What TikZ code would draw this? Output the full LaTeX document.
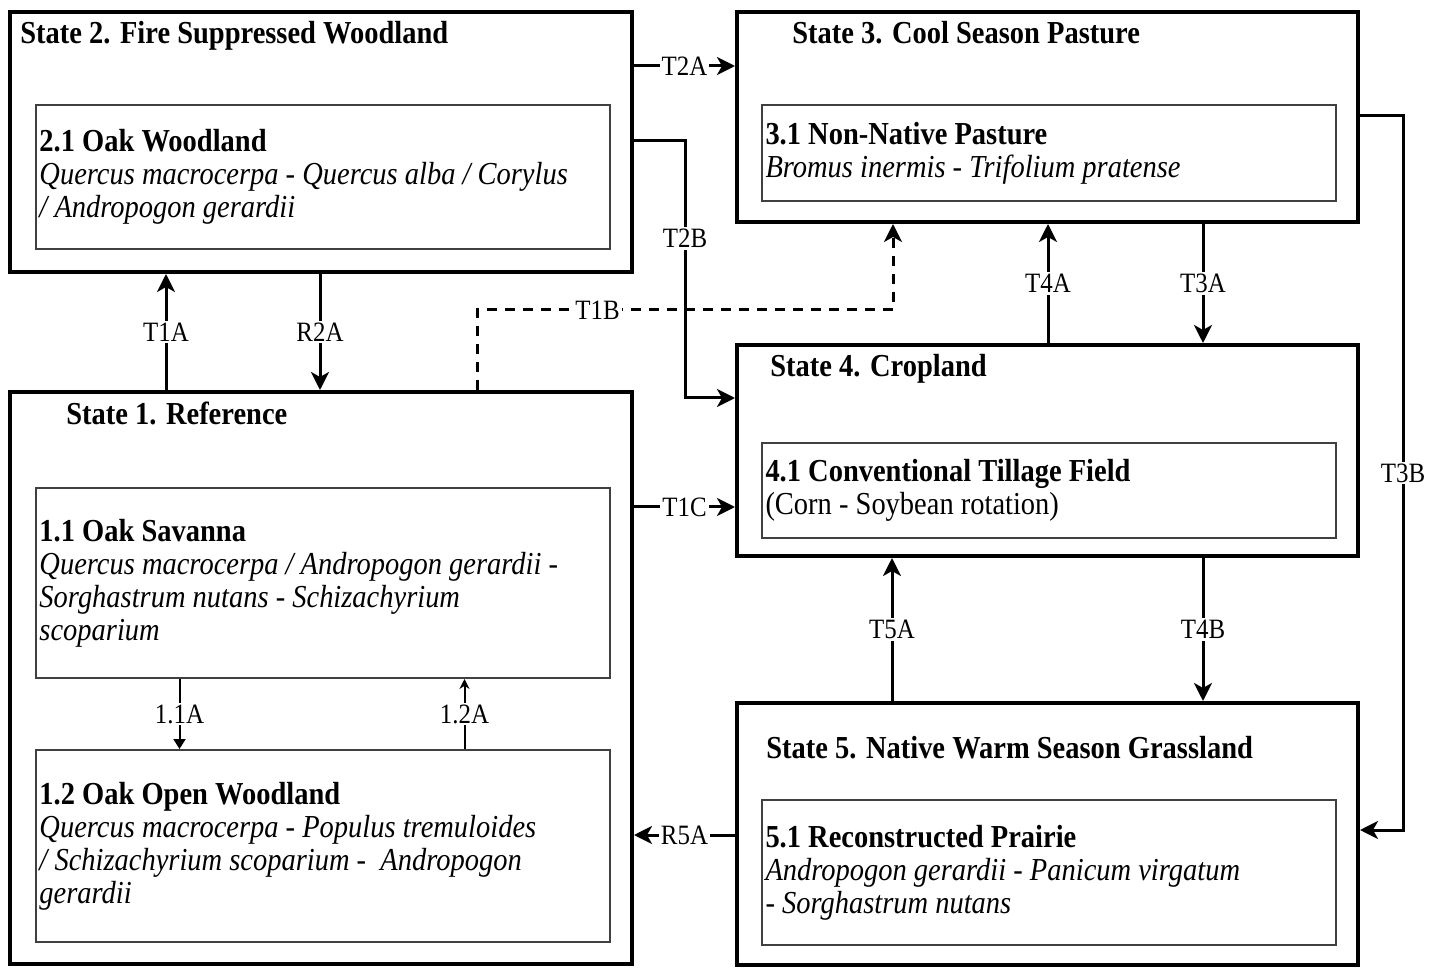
\documentclass[tikz,border=0pt]{standalone}
\usepackage{fontspec}
\setmainfont{Liberation Serif}[FakeStretch=0.89]
\usetikzlibrary{arrows.meta, positioning, calc}

\tikzset{
	statebox/.style={rectangle, draw, line width=2pt, inner sep=0pt},
	phasebox/.style={rectangle, draw=black!75, line width=1pt, inner sep=2pt, text width=283pt, align=flush left, font=\fontsize{16}{16.5}\selectfont},
	title/.style={anchor=base west, inner sep=0pt, font=\fontsize{16}{16.5}\selectfont\bfseries},
	tlabel/.style={fill=white, inner sep=1pt, font=\fontsize{14}{14}\selectfont},
	trans/.style={line width=1.5pt, -{Stealth[length=9pt, width=9pt, inset=2.5pt]}},
	ptrans/.style={line width=1pt},
}

\begin{document}
\begin{tikzpicture}[x=0.5pt, y=-0.5pt]
		\useasboundingbox (0,0) rectangle (1437,968);
		
		% states
		\node[statebox, minimum width=311pt, minimum height=130pt] (S2) at (321,142) {};
		\node[statebox, minimum width=310.5pt, minimum height=105pt] (S3) at (1047.5,117) {};
		\node[statebox, minimum width=311pt, minimum height=286pt] (S1) at (321,678) {};
		\node[statebox, minimum width=310.5pt, minimum height=105.5pt] (S4) at (1047.5,450.5) {};
		\node[statebox, minimum width=310.5pt, minimum height=131pt] (S5) at (1047.5,834) {};
		
		\node[title] (S2t) at (20,44) {State 2. Fire Suppressed Woodland};
		\node[title] (S3t) at (792,44) {State 3. Cool Season Pasture};
		\node[title] (S1t) at (66,425) {State 1. Reference};
		\node[title] (S4t) at (770,377) {State 4. Cropland};
		\node[title] (S5t) at (766,758) {State 5. Native Warm Season Grassland};
		
		% community phases
		\node[phasebox, minimum height=72pt] (P21) at (322.5,177) {\textbf{2.1 Oak Woodland}\\ \textit{Quercus macrocerpa - Quercus alba / Corylus}\\ \textit{/ Andropogon gerardii}};
		\node[phasebox, minimum height=48pt] (P31) at (1048.5,153) {\textbf{3.1 Non-Native Pasture}\\ \textit{Bromus inermis - Trifolium pratense}};
		\node[phasebox, minimum height=95pt] (P11) at (322.5,583) {\textbf{1.1 Oak Savanna}\\ \textit{Quercus macrocerpa / Andropogon gerardii -}\\ \textit{Sorghastrum nutans - Schizachyrium}\\ \textit{scoparium}};
		\node[phasebox, minimum height=96pt] (P12) at (322.5,846) {\textbf{1.2 Oak Open Woodland}\\ \textit{Quercus macrocerpa - Populus tremuloides}\\ \textit{/ Schizachyrium scoparium - ~Andropogon}\\ \textit{gerardii}};
		\node[phasebox, minimum height=47.5pt] (P41) at (1048.5,490.5) {\textbf{4.1 Conventional Tillage Field}\\ (Corn - Soybean rotation)};
		\node[phasebox, minimum height=72.5pt] (P51) at (1048.5,872.5) {\textbf{5.1 Reconstructed Prairie}\\ \textit{Andropogon gerardii - Panicum virgatum}\\ \textit{- Sorghastrum nutans}};
		
		% transitions
		\draw[trans] ([yshift=-28pt]S2.north east) -- node[tlabel] {T2A} ([yshift=-28pt]S3.north west);
		\draw[trans] ([yshift=-65.5pt]S2.north east) -- ++(25.5pt,0) |- node[tlabel, pos=.19] {T2B} ([yshift=-27.5pt]S4.north west);
		\draw[trans] ([xshift=79pt]S1.north west) -- node[tlabel] {T1A} ([xshift=79pt]S2.south west);
		\draw[trans] ([xshift=156pt]S2.south west) -- node[tlabel] {R2A} ([xshift=156pt]S1.north west);
		\draw[trans, dash pattern=on 5pt off 4pt] ([xshift=234.5pt]S1.north west) -- ++(0,40pt) -| node[tlabel, pos=.145] {T1B} ([xshift=79pt]S3.south west);
		\draw[trans] ([yshift=-58.5pt]S1.north east) -- node[tlabel] {T1C} ([yshift=-82pt]S4.north west);
		\draw[trans] ([xshift=156.5pt]S4.north west) -- node[tlabel] {T4A} ([xshift=156.5pt]S3.south west);
		\draw[trans] ([xshift=234pt]S3.south west) -- node[tlabel] {T3A} ([xshift=234pt]S4.north west);
		\draw[trans] ([yshift=-53pt]S3.north east) -- ++(21.5pt,0) |- node[tlabel, pos=.25] {T3B} ([yshift=-64.5pt]S5.north east);
		\draw[trans] ([xshift=78.5pt]S5.north west) -- node[tlabel] {T5A} ([xshift=78.5pt]S4.south west);
		\draw[trans] ([xshift=234pt]S4.south west) -- node[tlabel] {T4B} ([xshift=234pt]S5.north west);
		\draw[trans] ([yshift=-67pt]S5.north west) -- node[tlabel] {R5A} ([yshift=-222.5pt]S1.north east);
		
		% pathways within state 1
		\draw[ptrans, -{Triangle[length=5pt, width=6pt]}] ([xshift=72.5pt]P11.south west) -- node[tlabel] {1.1A} ([xshift=72.5pt]P12.north west);
		\draw[ptrans, -{Stealth[length=5pt, width=5pt]}] ([xshift=215pt]P12.north west) -- node[tlabel] {1.2A} ([xshift=215pt]P11.south west);
	\end{tikzpicture}
\end{document}
